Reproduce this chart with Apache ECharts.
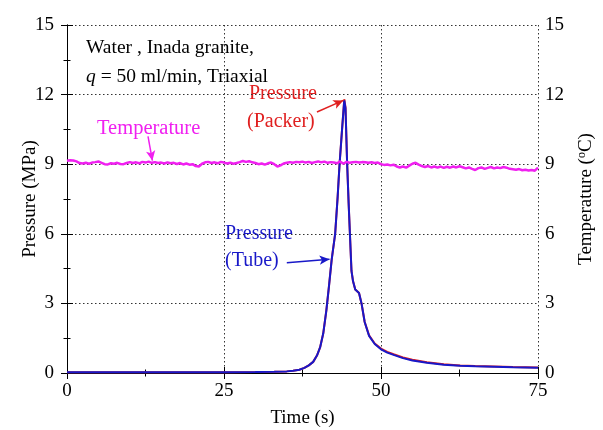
<!DOCTYPE html>
<html>
<head>
<meta charset="utf-8">
<script src="https://cdn.jsdelivr.net/npm/echarts@6/dist/echarts.min.js"></script>
<style>html,body{margin:0;padding:0;background:#fff}#c{width:603px;height:430px}</style>
</head>
<body>
<div id="c"></div>
<script>
// Pressure (Tube): [time s, MPa]
var tubeT = [0,5,10,15,20,25,30,33,35,36,37,37.8,38.5,39.2,39.8,40.3,40.8,41.3,41.7,42.15,42.7,43.1,43.4,43.8,44.15,44.35,44.6,44.85,45.05,45.3,45.55,45.9,46.5,46.9,47.4,48.1,49,50,51,52,53.5,55,57.3,60,62.6,65,68,71,75];
var tubeP = [0.03,0.03,0.03,0.03,0.03,0.03,0.04,0.05,0.07,0.1,0.14,0.22,0.33,0.48,0.75,1.1,1.7,2.7,3.7,4.9,6.0,7.6,9.0,10.5,11.75,11.4,9.1,7.3,6.0,4.4,3.95,3.6,3.45,3.0,2.2,1.6,1.25,1.02,0.88,0.78,0.64,0.54,0.44,0.36,0.31,0.29,0.27,0.25,0.23];
// Pressure (Packer)
var packerP = [0.03,0.03,0.03,0.03,0.03,0.03,0.04,0.05,0.07,0.1,0.14,0.22,0.33,0.48,0.75,1.1,1.7,2.7,3.7,4.9,6.0,7.6,9.0,10.5,11.8,11.45,9.1,7.3,6.0,4.4,3.95,3.6,3.45,3.0,2.2,1.62,1.27,1.05,0.91,0.81,0.67,0.57,0.46,0.38,0.32,0.3,0.28,0.26,0.24];
// Temperature (°C), every 0.5 s from 0 to 75 s
var tempStep = 0.5;
var tempV = [9.15,9.17,9.16,9.12,9.05,9.03,9.06,9.02,9.07,9.09,9.12,9.06,9.0,8.99,9.04,9.02,9.06,9.01,9.0,9.05,
9.09,9.05,9.08,9.04,9.1,9.07,9.11,9.06,9.09,9.05,9.07,9.03,9.08,9.04,9.06,9.01,9.05,8.99,9.03,8.98,
9.0,8.92,8.9,9.02,9.08,9.1,9.05,9.08,9.04,9.1,9.07,9.03,9.06,9.02,9.05,9.09,9.14,9.1,9.13,9.08,
9.05,9.0,9.03,8.98,9.04,9.07,9.0,8.9,8.95,9.03,9.06,9.09,9.06,9.1,9.08,9.11,9.07,9.1,9.05,9.09,
9.12,9.08,9.11,9.06,9.09,9.07,9.04,9.12,9.02,9.1,9.06,9.08,9.1,9.07,9.09,9.08,9.06,9.08,9.05,9.07,
9.0,8.97,8.99,8.95,8.98,8.9,8.86,8.9,8.85,8.94,9.02,9.06,8.98,8.92,8.88,8.92,8.86,8.9,8.85,8.9,
8.84,8.89,8.85,8.9,8.86,8.91,8.87,8.82,8.86,8.8,8.75,8.83,8.86,8.8,8.84,8.88,8.82,8.86,8.83,8.88,
8.85,8.8,8.78,8.76,8.79,8.74,8.76,8.73,8.75,8.72,8.85];
var xTicks = [0,25,50,75];
var yTicks = [0,3,6,9,12,15];

var tube = tubeT.map(function(t,i){return [t,tubeP[i]];});
var packer = tubeT.map(function(t,i){return [t,packerP[i]];});
var temp = tempV.map(function(v,i){return [i*tempStep,v];});

var F = 'Liberation Serif, Times New Roman, serif';
var split = {show:true,lineStyle:{color:'#333',type:[1.5,2.5],width:1}};
var axLine = {show:true,lineStyle:{color:'#000',width:1}};
var tick = {show:true,inside:true,length:6,lineStyle:{color:'#000'}};
var minor = {show:true,splitNumber:2,length:3.5,lineStyle:{color:'#000'}};
var lbl = {color:'#000',fontFamily:F,fontSize:19};

var chart = echarts.init(document.getElementById('c'));
chart.setOption({
  animation:false,
  backgroundColor:'#fff',
  grid:{left:67,right:65,top:25,bottom:57,containLabel:false,outerBoundsMode:'none'},
  xAxis:[
    {type:'value',min:xTicks[0],max:xTicks[xTicks.length-1],interval:25,position:'bottom',
     axisLine:axLine,axisTick:tick,minorTick:minor,splitLine:split,
     axisLabel:Object.assign({margin:9},lbl),
     name:'Time (s)',nameLocation:'middle',nameGap:36,nameMoveOverlap:false,nameTextStyle:{color:'#000',fontFamily:F,fontSize:19}},
    {type:'value',min:0,max:75,interval:25,position:'top',
     axisLine:axLine,axisTick:tick,minorTick:minor,splitLine:{show:false},axisLabel:{show:false}}
  ],
  yAxis:[
    {type:'value',min:yTicks[0],max:yTicks[yTicks.length-1],interval:3,position:'left',
     axisLine:axLine,axisTick:tick,minorTick:minor,splitLine:split,
     axisLabel:Object.assign({margin:13},lbl),
     name:'Pressure (MPa)',nameLocation:'middle',nameGap:27,nameMoveOverlap:false,nameTextStyle:{color:'#000',fontFamily:F,fontSize:19}},
    {type:'value',min:0,max:15,interval:3,position:'right',
     axisLine:axLine,axisTick:tick,minorTick:minor,splitLine:{show:false},
     axisLabel:Object.assign({margin:7},lbl),
     name:'Temperature ({s|o}C)',nameLocation:'middle',nameGap:38,nameRotate:90,nameMoveOverlap:false,
     nameTextStyle:{color:'#000',fontFamily:F,fontSize:19,rich:{s:{fontFamily:F,fontSize:12,verticalAlign:'top',padding:[0,0,8,0]}}}}
  ],
  series:[
    {name:'Packer',type:'line',data:packer,showSymbol:false,lineStyle:{color:'#e02020',width:2},z:2,
     markLine:{silent:true,symbol:['none','arrow'],symbolSize:[7,10],label:{show:false},
       lineStyle:{color:'#e02020',width:1.5,type:'solid'},
       data:[[{coord:[39.8,11.25]},{coord:[44.0,11.75]}]]}},
    {name:'Tube',type:'line',data:tube,showSymbol:false,lineStyle:{color:'#1818c8',width:2},z:3,
     markLine:{silent:true,symbol:['none','arrow'],symbolSize:[7,10],label:{show:false},
       lineStyle:{color:'#1818c8',width:1.5,type:'solid'},
       data:[[{coord:[35.0,4.75]},{coord:[41.8,4.9]}]]}},
    {name:'Temperature',type:'line',yAxisIndex:1,data:temp,showSymbol:false,lineStyle:{color:'#f020f0',width:2.5},z:4,
     markLine:{silent:true,symbol:['none','arrow'],symbolSize:[7,10],label:{show:false},
       lineStyle:{color:'#f020f0',width:1.5,type:'solid'},
       data:[[{coord:[12.9,10.2]},{coord:[13.6,9.15]}]]}}
  ],
  graphic:[
    {type:'text',left:86,top:38,style:{text:'Water , Inada granite,',fill:'#000',font:'19.5px '+F}},
    {type:'text',left:86,top:67,style:{rich:{i:{fontStyle:'italic',fontFamily:F,fontSize:19.5,fill:'#000'},n:{fontFamily:F,fontSize:19.5,fill:'#000'}},text:'{i|q}{n| = 50 ml/min, Triaxial}'}},
    {type:'text',left:97,top:118,style:{text:'Temperature',fill:'#f020f0',font:'20.5px '+F}},
    {type:'text',left:249,top:84,style:{text:'Pressure',fill:'#e02020',font:'20px '+F}},
    {type:'text',left:247,top:112,style:{text:'(Packer)',fill:'#e02020',font:'20px '+F}},
    {type:'text',left:225,top:224,style:{text:'Pressure',fill:'#1818c8',font:'20px '+F}},
    {type:'text',left:225,top:251,style:{text:'(Tube)',fill:'#1818c8',font:'20px '+F}}
  ]
});
</script>
</body>
</html>
